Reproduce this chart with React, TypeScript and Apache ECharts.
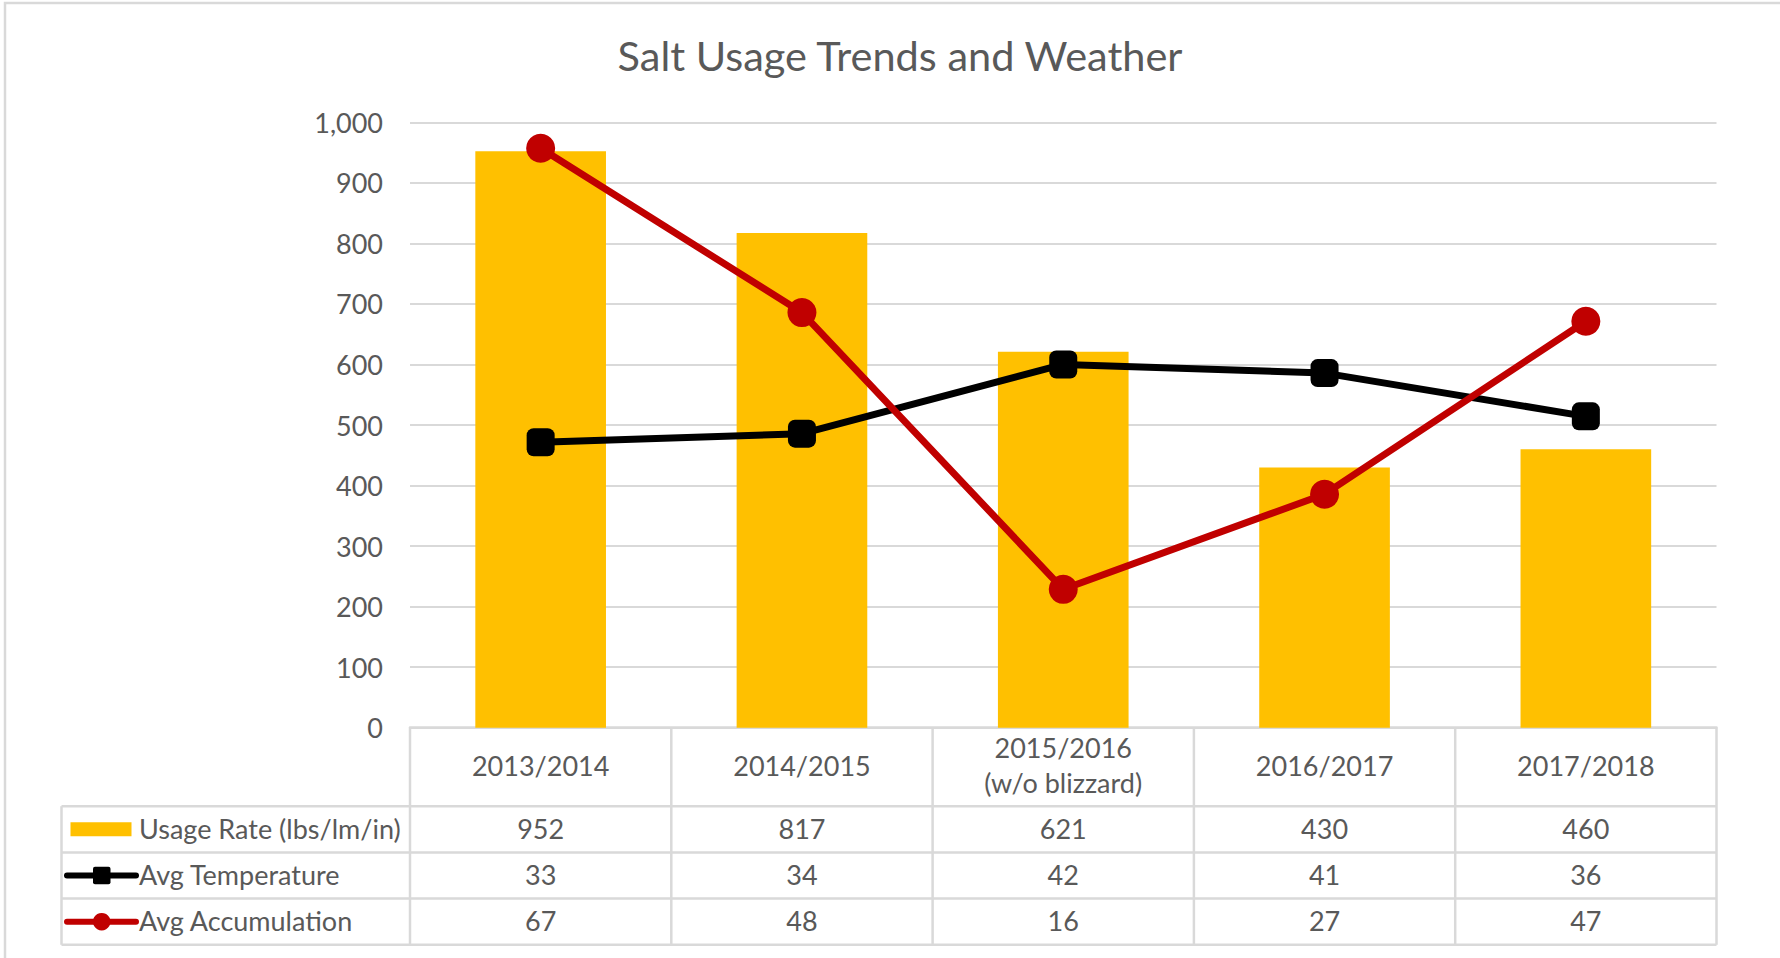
import React, { useEffect, useRef } from "react";
import * as echarts from "echarts";

const categories = ["2013/2014", "2014/2015", "2015/2016\n(w/o blizzard)", "2016/2017", "2017/2018"];
const usageRate = [952, 817, 621, 430, 460];
const avgTemperature = [33, 34, 42, 41, 36];
const avgAccumulation = [67, 48, 16, 27, 47];
const seriesNames = ["Usage Rate (lbs/lm/in)", "Avg Temperature", "Avg Accumulation"];
const titleText = "Salt Usage Trends and Weather";

const FONT = 'Lato, "Noto Sans", sans-serif';
const GRAY_TEXT = "#595959";
const GRID_COLOR = "#d9d9d9";
const BAR_COLOR = "#FFC000";
const TEMP_COLOR = "#000000";
const ACC_COLOR = "#C00000";

export default function App() {
  const ref = useRef<HTMLDivElement>(null);

  useEffect(() => {
    document.body.style.margin = "0";
    if (!ref.current) return;
    const chart = echarts.init(ref.current, null, { renderer: "svg" });
    chart.setOption({
      animation: false,
      backgroundColor: "#ffffff",
      title: {
        text: titleText,
        left: 900,
        top: 34,
        padding: 0,
        textAlign: "center",
        textStyle: { fontSize: 41.5, fontWeight: "normal", color: GRAY_TEXT, fontFamily: FONT },
      },
      grid: { left: 410, right: 63.5, top: 122.3, bottom: 230.3, containLabel: false },
      xAxis: {
        type: "category",
        data: categories,
        axisLine: { show: true, lineStyle: { color: GRID_COLOR, width: 2.5 } },
        axisTick: { show: false },
        axisLabel: { show: false },
        splitLine: { show: false },
      },
      yAxis: [
        {
          type: "value",
          min: 0,
          max: 1000,
          interval: 100,
          axisLine: { show: false },
          axisTick: { show: false },
          axisLabel: {
            margin: 27,
            fontSize: 27,
            color: GRAY_TEXT,
            fontFamily: FONT,
            formatter: (v: number) => v.toLocaleString("en-US"),
          },
          splitLine: { lineStyle: { color: GRID_COLOR, width: 2.2 } },
        },
        {
          type: "value",
          min: 0,
          max: 70,
          show: false,
          splitLine: { show: false },
        },
      ],
      series: [
        {
          name: seriesNames[0],
          type: "bar",
          data: usageRate,
          barWidth: "50%",
          itemStyle: { color: BAR_COLOR },
          z: 2,
        },
        {
          name: seriesNames[1],
          type: "line",
          yAxisIndex: 1,
          data: avgTemperature,
          symbol: "roundRect",
          symbolSize: 28,
          lineStyle: { color: TEMP_COLOR, width: 7 },
          itemStyle: { color: TEMP_COLOR },
          z: 3,
        },
        {
          name: seriesNames[2],
          type: "line",
          yAxisIndex: 1,
          data: avgAccumulation,
          symbol: "circle",
          symbolSize: 29,
          lineStyle: { color: ACC_COLOR, width: 7 },
          itemStyle: { color: ACC_COLOR },
          z: 4,
        },
      ],
    });

    // Data table drawn beneath the plot, positioned from the category axis.
    const c0 = chart.convertToPixel({ xAxisIndex: 0 }, 0) as number;
    const c1 = chart.convertToPixel({ xAxisIndex: 0 }, 1) as number;
    const band = c1 - c0;
    const plotLeft = c0 - band / 2;
    const plotRight = plotLeft + band * categories.length;
    const yZero = chart.convertToPixel({ yAxisIndex: 0 }, 0) as number;
    const headerBottom = yZero + 78.5;
    const rowH = 46.2;
    const tableLeft = 61.5;
    const tableBottom = headerBottom + rowH * 3;
    const lineStyle = { stroke: GRID_COLOR, lineWidth: 2.5 };
    const els: any[] = [];

    // outer chart border
    els.push({
      type: "rect",
      shape: { x: 5, y: 3, width: 1800, height: 1000 },
      style: { fill: "none", stroke: GRID_COLOR, lineWidth: 2.5 },
      silent: true,
    });

    // vertical lines
    for (let k = 0; k <= categories.length; k++) {
      const x = plotLeft + band * k;
      els.push({ type: "line", shape: { x1: x, y1: yZero, x2: x, y2: tableBottom }, style: lineStyle });
    }
    els.push({ type: "line", shape: { x1: tableLeft, y1: headerBottom, x2: tableLeft, y2: tableBottom }, style: lineStyle });
    // horizontal lines
    for (let r = 0; r <= 3; r++) {
      const y = headerBottom + rowH * r;
      els.push({ type: "line", shape: { x1: tableLeft, y1: y, x2: plotRight, y2: y }, style: lineStyle });
    }

    const txt = (text: string, x: number, y: number, align: string, lineHeight = 35) => ({
      type: "text",
      x,
      y,
      style: {
        text,
        fill: GRAY_TEXT,
        fontSize: 27,
        fontFamily: FONT,
        align,
        verticalAlign: "middle",
        lineHeight,
      },
    });

    // header (categories)
    const headerMid = (yZero + headerBottom) / 2 - 1.5;
    categories.forEach((c, i) => {
      const x = chart.convertToPixel({ xAxisIndex: 0 }, i) as number;
      els.push(txt(c, x, headerMid, "center"));
    });

    const rows = [usageRate, avgTemperature, avgAccumulation];
    rows.forEach((vals, r) => {
      const yMid = headerBottom + rowH * r + rowH / 2 - 1;
      els.push(txt(seriesNames[r], 139, yMid, "left"));
      vals.forEach((v, i) => {
        const x = chart.convertToPixel({ xAxisIndex: 0 }, i) as number;
        els.push(txt(String(v), x, yMid, "center"));
      });
    });

    // legend keys
    const y1 = headerBottom + rowH / 2;
    els.push({ type: "rect", shape: { x: 70.5, y: y1 - 7, width: 61, height: 14 }, style: { fill: BAR_COLOR } });
    const y2 = headerBottom + rowH * 1.5;
    els.push({ type: "line", shape: { x1: 67, y1: y2, x2: 136, y2: y2 }, style: { stroke: TEMP_COLOR, lineWidth: 6, lineCap: "round" } });
    els.push({ type: "rect", shape: { x: 93, y: y2 - 8.7, width: 17.5, height: 17.5, r: 2 }, style: { fill: TEMP_COLOR } });
    const y3 = headerBottom + rowH * 2.5;
    els.push({ type: "line", shape: { x1: 67, y1: y3, x2: 136, y2: y3 }, style: { stroke: ACC_COLOR, lineWidth: 6, lineCap: "round" } });
    els.push({ type: "circle", shape: { cx: 101.7, cy: y3, r: 8.8 }, style: { fill: ACC_COLOR } });

    chart.setOption({ graphic: { elements: els } });

    return () => chart.dispose();
  }, []);

  return <div ref={ref} style={{ width: 1780, height: 958 }} />;
}
